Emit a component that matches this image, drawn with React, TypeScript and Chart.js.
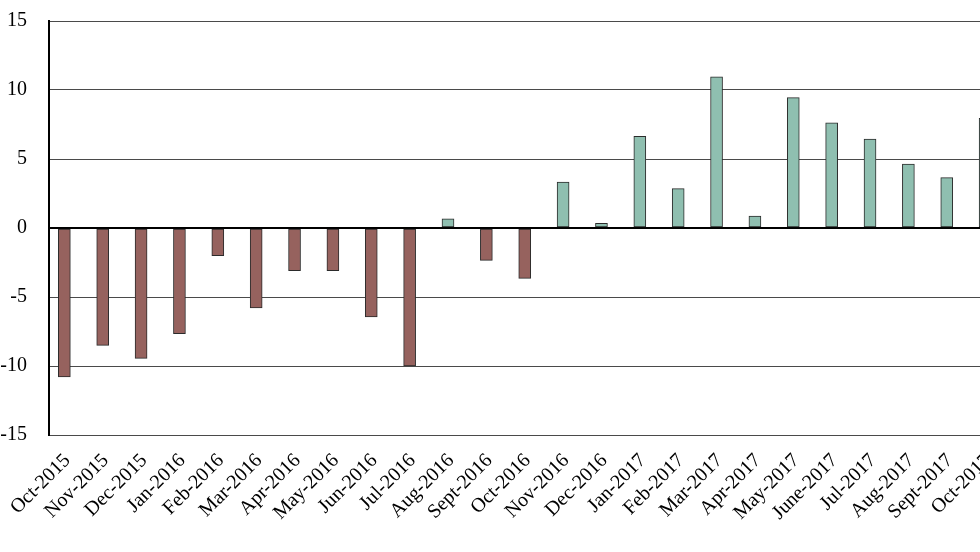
import React, { useEffect, useRef } from "react";
import { Chart, registerables } from "chart.js";

Chart.register(...registerables);

const CATEGORIES: string[] = [
  "Oct-2015", "Nov-2015", "Dec-2015", "Jan-2016", "Feb-2016", "Mar-2016",
  "Apr-2016", "May-2016", "Jun-2016", "Jul-2016", "Aug-2016", "Sept-2016",
  "Oct-2016", "Nov-2016", "Dec-2016", "Jan-2017", "Feb-2017", "Mar-2017",
  "Apr-2017", "May-2017", "June-2017", "Jul-2017", "Aug-2017", "Sept-2017",
  "Oct-2017",
];

const VALUES: number[] = [
  -10.8, -8.5, -9.45, -7.65, -2.0, -5.8, -3.1, -3.1, -6.45, -10.0, 0.67, -2.35,
  -3.65, 3.33, 0.34, 6.65, 2.85, 10.95, 0.87, 9.45, 7.63, 6.45, 4.64, 3.65, 7.95,
];

const Y_TICKS: number[] = [-15, -10, -5, 0, 5, 10, 15];

const NEG_COLOR = "#96625e";
const POS_COLOR = "#8fbfb0";

export default function App() {
  const ref = useRef<HTMLCanvasElement | null>(null);

  useEffect(() => {
    if (!ref.current) return;
    const font = "'Liberation Serif', 'Times New Roman', serif";
    const chart = new Chart(ref.current, {
      type: "bar",
      data: {
        datasets: [
          {
            data: CATEGORIES.map((_, i) => ({ x: i, y: VALUES[i] })),
            backgroundColor: VALUES.map((v) => (v < 0 ? NEG_COLOR : POS_COLOR)),
            borderColor: "#2b2b2b",
            borderWidth: 1,
            borderSkipped: false,
            barThickness: 12,
          },
        ],
      },
      options: {
        responsive: false,
        animation: false,
        layout: { padding: { top: 21, left: 0, right: 0, bottom: 0 } },
        plugins: {
          legend: { display: false },
          tooltip: { enabled: false },
        },
        scales: {
          x: {
            type: "linear",
            offset: false,
            min: -0.4,
            max: 25.17,
            afterBuildTicks: (scale: any) => {
              scale.ticks = CATEGORIES.map((_, i) => ({ value: i }));
            },
            afterFit: (scale: any) => {
              scale.height = 117;
              scale.paddingLeft = 0;
              scale.paddingRight = 0;
              scale.paddingTop = 0;
              scale.paddingBottom = 0;
            },
            grid: { display: false, drawTicks: false },
            border: { display: false },
            ticks: {
              autoSkip: false,
              maxRotation: 45,
              minRotation: 45,
              padding: 14,
              labelOffset: 3,
              color: "#000",
              font: { family: font, size: 20 },
              callback: (v: any) => CATEGORIES[v as number] ?? "",
            },
          },
          y: {
            min: -15,
            max: 15,
            afterBuildTicks: (scale: any) => {
              scale.ticks = Y_TICKS.map((v) => ({ value: v }));
            },
            afterFit: (scale: any) => {
              scale.width = 49;
              scale.paddingLeft = 0;
              scale.paddingRight = 0;
              scale.paddingTop = 0;
              scale.paddingBottom = 0;
            },
            grid: {
              drawTicks: false,
              color: (ctx: any) => (ctx.tick && ctx.tick.value === 0 ? "#000" : "#4a4a4a"),
              lineWidth: (ctx: any) => (ctx.tick && ctx.tick.value === 0 ? 2 : 1),
            },
            border: { display: true, color: "#000", width: 2 },
            ticks: {
              padding: 22,
              color: "#000",
              font: { family: font, size: 20 },
            },
          },
        },
      },
    });
    return () => chart.destroy();
  }, []);

  return (
    <div style={{ position: "fixed", left: 0, top: 0, width: 1030, height: 552, background: "#fff" }}>
      <canvas ref={ref} width={1030} height={552} style={{ width: 1030, height: 552 }} />
    </div>
  );
}
